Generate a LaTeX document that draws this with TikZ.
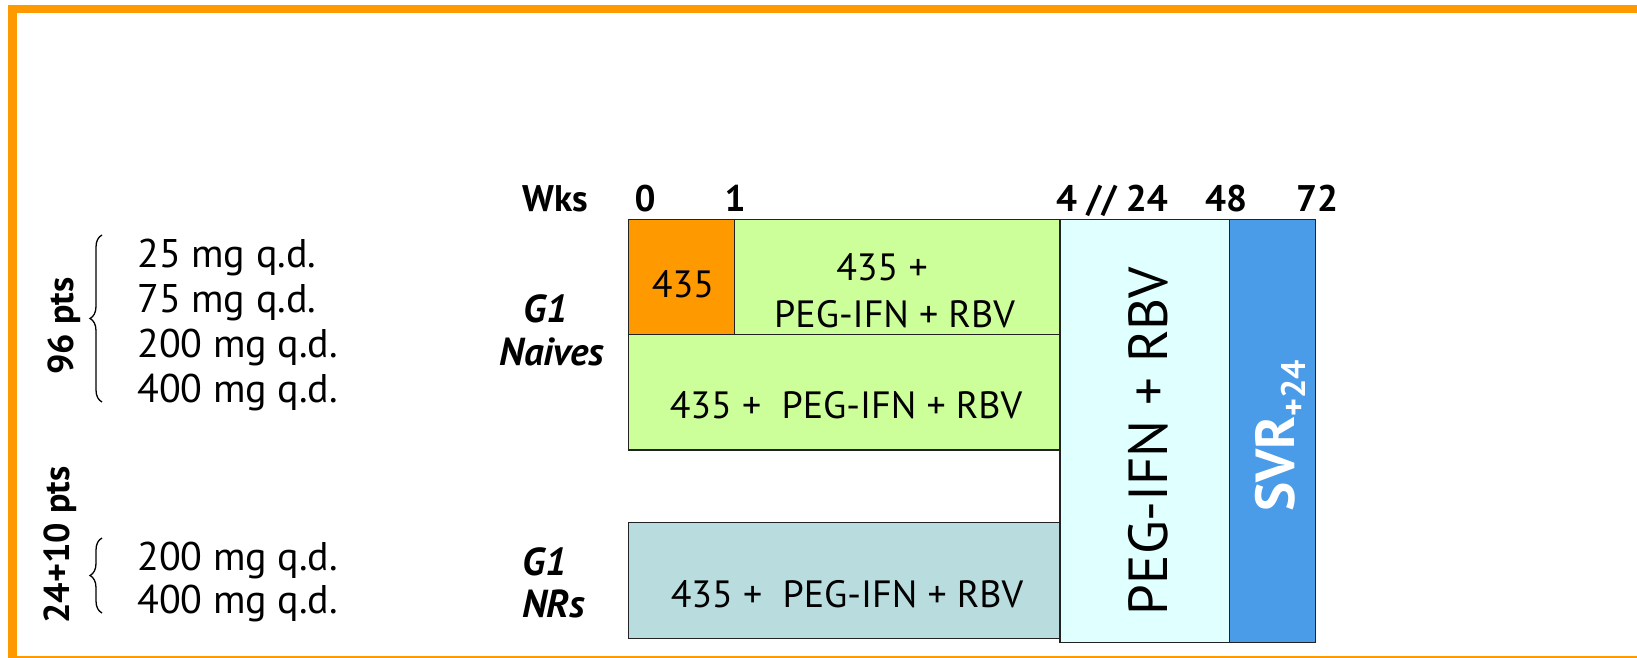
\documentclass[tikz,border=0pt]{standalone}
\usepackage{fontspec}
\setmainfont{PT Sans}
\usetikzlibrary{decorations.pathreplacing}
\definecolor{frameorange}{HTML}{FF9900}
\definecolor{boxorange}{HTML}{FF9900}
\definecolor{boxgreen}{HTML}{CCFF99}
\definecolor{boxcyan}{HTML}{E0FFFF}
\definecolor{boxblue}{HTML}{4A9BE8}
\definecolor{boxteal}{HTML}{B9DDDF}
\definecolor{boxline}{HTML}{222222}
\begin{document}
\begin{tikzpicture}[x=1pt,y=-1pt,
  box/.style={draw=boxline, line width=1.5pt, inner sep=0pt, outer sep=0pt, anchor=north west},
  boxtxt/.style={font=\fontsize{38}{46}\selectfont, anchor=base, inner sep=0pt},
  dose/.style={font=\fontsize{40}{48}\selectfont, anchor=base west, inner sep=0pt},
  wk/.style={font=\bfseries\fontsize{37}{44}\selectfont, anchor=base, inner sep=0pt},
  grp/.style={font=\bfseries\itshape\fontsize{39}{46}\selectfont, anchor=base, inner sep=0pt},
  pts/.style={font=\bfseries\fontsize{36}{43}\selectfont, anchor=base, inner sep=0pt, rotate=90},
  bracestyle/.style={draw=black, line width=1.3pt, decorate, decoration={brace, amplitude=12pt}}
]
\useasboundingbox (0,0) rectangle (1637,657);
\begin{scope}
  \clip (0,0) rectangle (1637,657);
  \draw[frameorange, line width=8.5pt] (12.5,9) rectangle (1660,660);
\end{scope}

% boxes
\node[box, fill=boxorange, minimum width=106pt, minimum height=115pt] (b435) at (628.5,219.3) {};
\node[box, fill=boxgreen, minimum width=325.5pt, minimum height=115pt] (gA) at (734.5,219.3) {};
\node[box, fill=boxgreen, minimum width=431.5pt, minimum height=115.7pt] (gB) at (628.5,334.3) {};
\node[box, fill=boxteal, minimum width=431.5pt, minimum height=115.6pt] (nr) at (628.5,522.7) {};
\node[box, fill=boxcyan, minimum width=169.4pt, minimum height=423pt] (peg) at (1060,219.3) {};
\node[box, fill=boxblue, minimum width=86.3pt, minimum height=423pt] (svr) at (1229.4,219.3) {};

% box texts
\node[boxtxt] (t435) at (683,297) {435};
\node[boxtxt] (tA1) at (882,280) {435 +};
\node[boxtxt] (tA2) at (894.5,327) {PEG-IFN + RBV};
\node[boxtxt] (tB) at (846,418) {435 +\ \ PEG-IFN + RBV};
\node[boxtxt] (tNR) at (847,607) {435 +\ \ PEG-IFN + RBV};
\node[anchor=base, inner sep=0pt, rotate=90, font=\fontsize{55}{62}\selectfont] (tPEG) at (1167,441) {PEG-IFN + RBV};
\node[anchor=base, inner sep=0pt, rotate=90, text=white, font=\bfseries\fontsize{55}{62}\selectfont] (tSVR) at (1294,436) {SVR{\fontsize{34}{40}\selectfont\raisebox{-11pt}{+24}}};

% week axis
\node[wk] (wks) at (555,211) {Wks};
\node[wk] (w0) at (645,211) {0};
\node[wk] (w1) at (735,211) {1};
\node[wk] (w4) at (1112,211) {4 // 24};
\node[wk] (w48) at (1226,211) {48};
\node[wk] (w72) at (1317,211) {72};

% group labels
\node[grp] (g1a) at (546,322) {G1};
\node[grp] (naives) at (552,365) {Naives};
\node[grp, anchor=base west] (g1b) at (522,575) {G1};
\node[grp, anchor=base west] (nrs) at (522,617) {NRs};

% doses
\node[dose] (d1) at (137,267) {25 mg q.d.};
\node[dose] (d2) at (137,312) {75 mg q.d.};
\node[dose] (d3) at (137,357) {200 mg q.d.};
\node[dose] (d4) at (137,402) {400 mg q.d.};
\node[dose] (d5) at (137,570) {200 mg q.d.};
\node[dose] (d6) at (137,613) {400 mg q.d.};

% braces
\coordinate (br1a) at (102,402);
\coordinate (br1b) at (102,235);
\coordinate (br2a) at (102,613);
\coordinate (br2b) at (102,538);
\draw[bracestyle] (br1a) -- (br1b);
\draw[bracestyle] (br2a) -- (br2b);

% patient counts
\node[pts] (p96) at (73,326) {96 pts};
\node[pts] (p34) at (69,545) {24+10 pts};
\end{tikzpicture}
\end{document}
